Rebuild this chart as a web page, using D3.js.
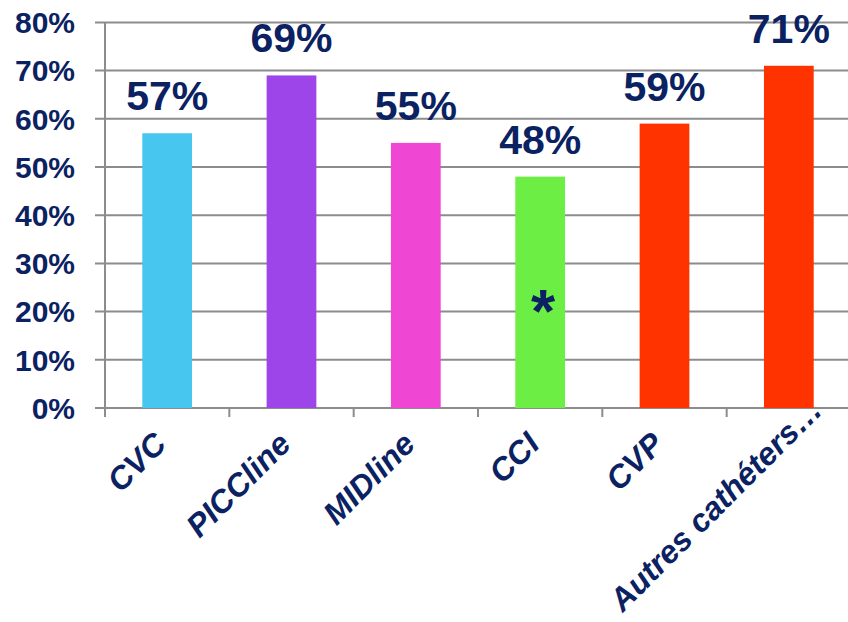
<!DOCTYPE html>
<html>
<head>
<meta charset="utf-8">
<script src="https://cdn.jsdelivr.net/npm/d3@7/dist/d3.min.js"></script>
<style>
  html, body { margin: 0; padding: 0; background: #ffffff; }
  svg { display: block; }
</style>
</head>
<body>
<svg id="chart" width="848" height="622"></svg>
<script>
// ---- data ----
const categories = ["CVC", "PICCline", "MIDline", "CCI", "CVP", "Autres cathéters…"];
const values = [0.57, 0.69, 0.55, 0.48, 0.59, 0.71];
const valueLabels = ["57%", "69%", "55%", "48%", "59%", "71%"];
const barColors = ["#47C6EF", "#9E45EA", "#F046D4", "#6DEE45", "#FF3300", "#FF3300"];
const yTicks = [0, 0.1, 0.2, 0.3, 0.4, 0.5, 0.6, 0.7, 0.8];
const annotationCategory = "CCI";
const annotationText = "*";
const annotationValue = 0.2;

// ---- layout ----
const W = 848, H = 622;
const plotLeft = 105, plotRight = 851, plotTop = 22.4, plotBottom = 408;
const navy = "#0B2262";
const gridColor = "#8C8C8C";

const svg = d3.select("#chart");

const x = d3.scaleBand().domain(categories).range([plotLeft, plotRight]).paddingInner(0.6).paddingOuter(0.3);
const y = d3.scaleLinear().domain([0, 0.8]).range([plotBottom, plotTop]);

// gridlines
svg.append("g").selectAll("line").data(yTicks).join("line")
  .attr("x1", plotLeft - 10).attr("x2", W)
  .attr("y1", d => y(d)).attr("y2", d => y(d))
  .attr("stroke", gridColor).attr("stroke-width", 2);

// y axis line
svg.append("line")
  .attr("x1", plotLeft).attr("x2", plotLeft)
  .attr("y1", y(0.8)).attr("y2", plotBottom + 9)
  .attr("stroke", gridColor).attr("stroke-width", 2);

// x ticks at band boundaries
const step = x.step();
const boundaries = d3.range(categories.length + 1).map(i => plotLeft + i * step);
svg.append("g").selectAll("line").data(boundaries).join("line")
  .attr("x1", d => d).attr("x2", d => d)
  .attr("y1", plotBottom).attr("y2", plotBottom + 9)
  .attr("stroke", gridColor).attr("stroke-width", 2);

// y tick labels
svg.append("g").selectAll("text").data(yTicks).join("text")
  .attr("x", 75).attr("y", d => y(d)).attr("dy", "0.36em")
  .attr("text-anchor", "end")
  .attr("font-family", "Liberation Sans, Arial, sans-serif")
  .attr("font-weight", "bold").attr("font-size", 30)
  .attr("fill", navy)
  .text(d => d3.format(".0%")(d));

// bars
svg.append("g").selectAll("rect").data(categories).join("rect")
  .attr("x", d => x(d)).attr("width", x.bandwidth())
  .attr("y", (d, i) => y(values[i]))
  .attr("height", (d, i) => plotBottom - y(values[i]))
  .attr("fill", (d, i) => barColors[i]);

// value labels
svg.append("g").selectAll("text").data(categories).join("text")
  .attr("x", d => x(d) + x.bandwidth() / 2)
  .attr("y", (d, i) => y(values[i]) - 23)
  .attr("text-anchor", "middle")
  .attr("font-family", "Liberation Sans, Arial, sans-serif")
  .attr("font-weight", "bold").attr("font-size", 41)
  .attr("fill", navy)
  .text((d, i) => valueLabels[i]);

// category labels (rotated)
const catG = svg.append("g");
categories.forEach(c => {
  const cx = x(c) + x.bandwidth() / 2 + 1;
  const cy = 446;
  const t = catG.append("text")
    .attr("text-anchor", "end")
    .attr("font-family", "Liberation Sans, Arial, sans-serif")
    .attr("font-weight", "bold").attr("font-style", "italic").attr("font-size", 32)
    .attr("fill", navy)
    .attr("transform", `translate(${cx},${cy}) rotate(-45)`)
    .text(c);
  // keep label inside the picture: slide along its direction if it overflows the bottom
  const len = t.node().getComputedTextLength();
  const bottomY = cy + len * Math.SQRT1_2 + 6;
  const limit = 619;
  if (bottomY > limit) {
    const s = (bottomY - limit);
    t.attr("transform", `translate(${cx + s},${cy - s}) rotate(-45)`);
  }
});

// annotation asterisk
svg.append("text")
  .attr("x", x(annotationCategory) + x.bandwidth() / 2 + 3)
  .attr("y", y(annotationValue) + 20)
  .attr("text-anchor", "middle")
  .attr("font-family", "Liberation Sans, Arial, sans-serif")
  .attr("font-weight", "bold").attr("font-size", 62)
  .attr("fill", navy)
  .text(annotationText);
</script>
</body>
</html>
